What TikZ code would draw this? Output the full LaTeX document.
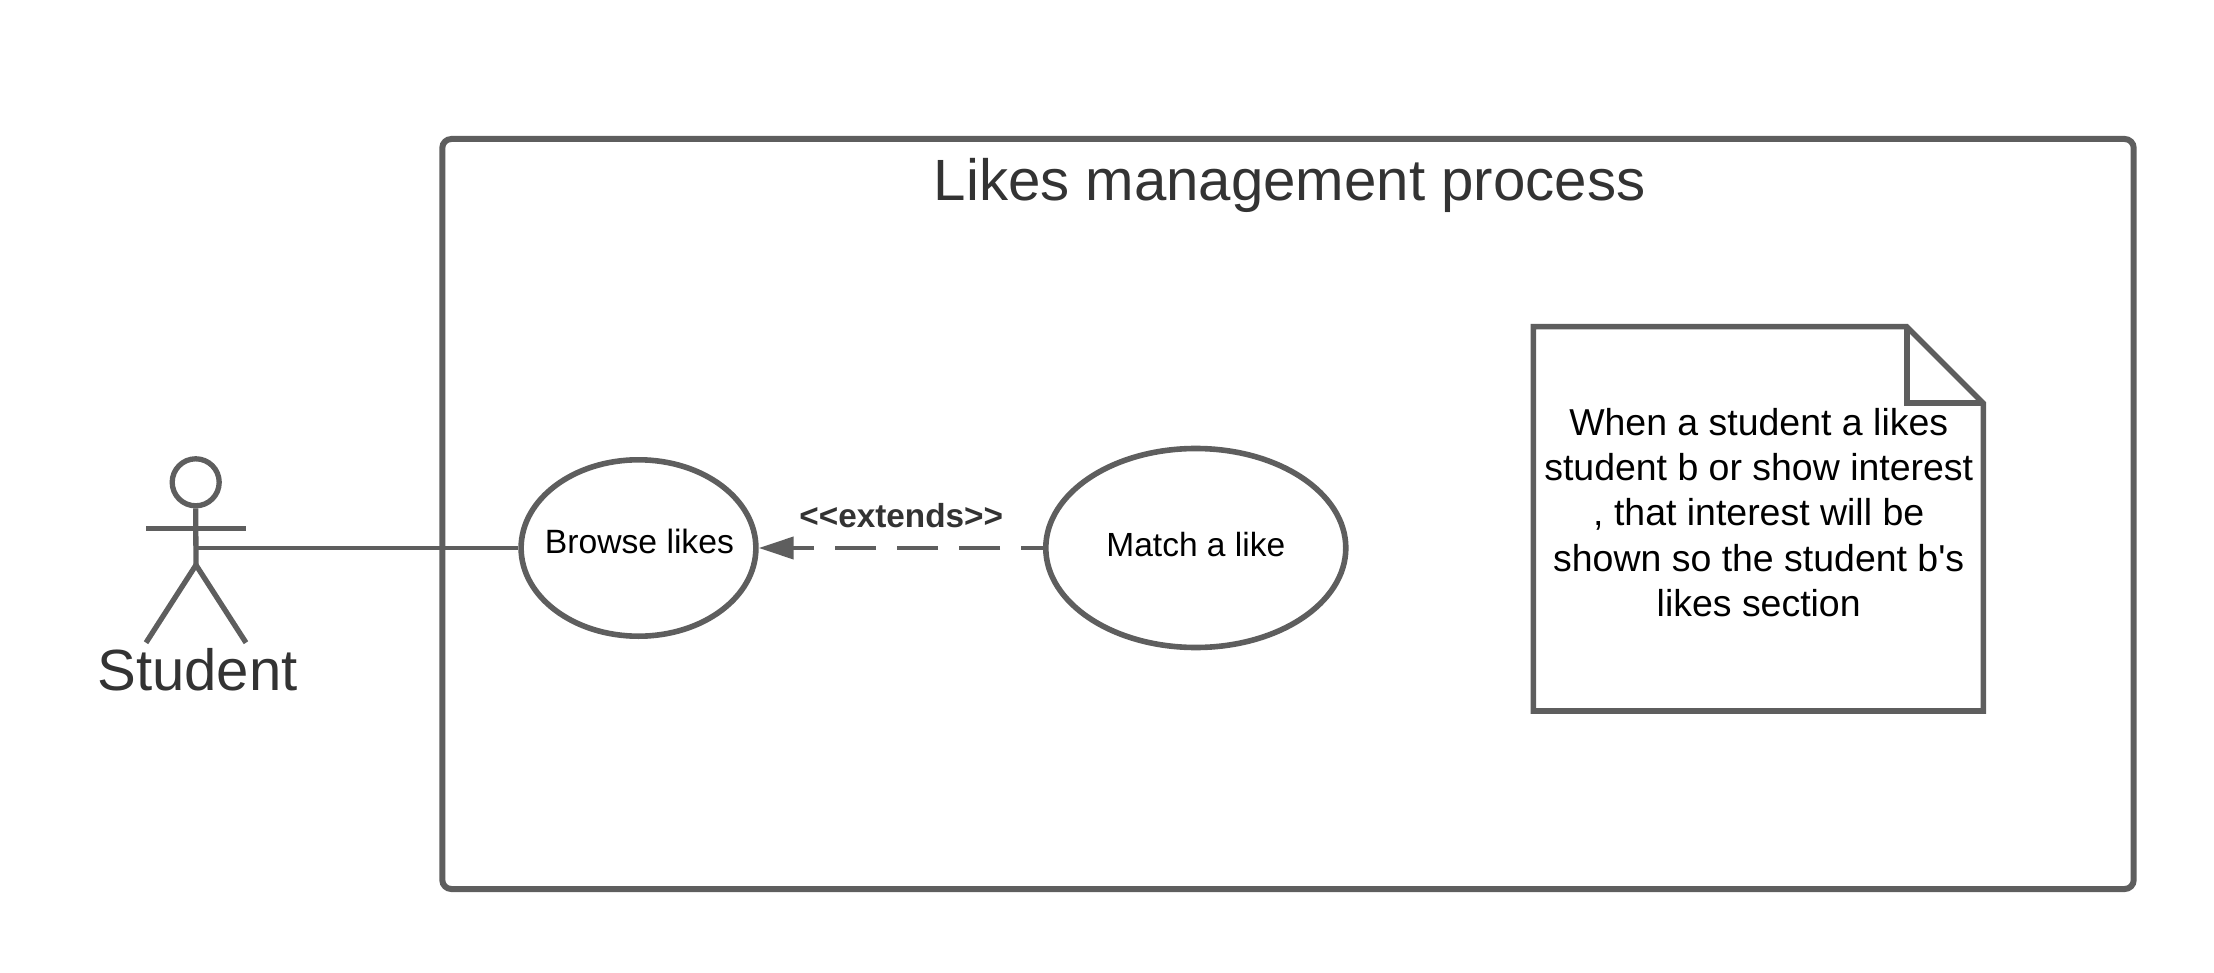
\documentclass[tikz,border=0pt]{standalone}
\usepackage{fontspec}
\setmainfont{Liberation Sans}
\newfontfamily\notefont{Liberation Sans}
\usetikzlibrary{arrows.meta,shapes.geometric}
\definecolor{lineg}{HTML}{5E5E5E}
\definecolor{textg}{HTML}{333333}
\tikzset{
  outline/.style={draw=lineg,line width=5.6pt},
  connector/.style={draw=lineg,line width=4pt},
  lbl/.style={anchor=base,inner sep=0pt,outer sep=0pt},
}
\newcommand{\fs}[1]{\fontsize{#1}{#1}\selectfont}
\begin{document}
\begin{tikzpicture}[x=1pt,y=-1pt]
\useasboundingbox (0,0) rectangle (2214,973);
% system frame
\draw[outline,line width=6pt,rounded corners=9pt] (442.3,139) rectangle (2133.7,889);
\node[lbl,text=textg,font=\fs{58.2}] (title) at (1289.6,201) {Likes management process};
% actor
\node[circle,draw=lineg,line width=5.3pt,minimum size=47pt,inner sep=0pt] (head) at (195.7,482.3) {};
\coordinate (hip) at (196,565);
\coordinate (armL) at (146,528.3);
\coordinate (armR) at (246,528.3);
\coordinate (legL) at (146,642.7);
\coordinate (legR) at (246,642.7);
\coordinate (spine) at (196,548);
\draw[draw=lineg,line width=5.3pt] (head.south) -- (hip);
\draw[draw=lineg,line width=5.3pt] (armL) -- (armR);
\draw[draw=lineg,line width=5.3pt] (legL) -- (hip) -- (legR);
\node[lbl,text=textg,font=\fs{58.1}] (student) at (197.4,690) {Student};
% use cases
\node[ellipse,outline,minimum width=234.8pt,minimum height=176.4pt,inner sep=0pt] (browse) at (638.5,548) {};
\node[lbl,text=black,font=\fs{33.7}] (browsetxt) at (639.4,553) {Browse likes};
\node[ellipse,outline,minimum width=300pt,minimum height=199pt,inner sep=0pt] (match) at (1195.8,548) {};
\node[lbl,text=black,font=\fs{33.5}] (matchtxt) at (1195.8,556.7) {Match a like};
% connectors
\draw[connector] (spine) -- (browse.west);
\draw[connector,dash pattern=on 41pt off 21pt,dash phase=19pt,
  -{Triangle[length=35pt,width=22pt,fill=lineg]}] (match.west) -- (browse.east);
\node[lbl,text=textg,font=\fs{33.3}\bfseries] (ext) at (901.2,527.4) {<{}<extends>{}>};
% note
\coordinate (n1) at (1533.3,326.7);
\coordinate (n2) at (1906.7,326.7);
\coordinate (n3) at (1983.3,403.3);
\coordinate (n4) at (1983.3,711);
\coordinate (n5) at (1533.3,711);
\coordinate (n6) at (1906.7,403.3);
\draw[outline,line join=miter] (n1) -- (n2) -- (n3) -- (n4) -- (n5) -- cycle;
\draw[outline] (n2) -- (n6) -- (n3);
\node[inner sep=0pt,align=center,text=black,font=\notefont\fontsize{37.45}{45.2}\selectfont] (note) at (1758.7,512.5)
 {When a student a likes\\student b or show interest\\, that interest will be\\shown so the student b's\\likes section};
\end{tikzpicture}
\end{document}
